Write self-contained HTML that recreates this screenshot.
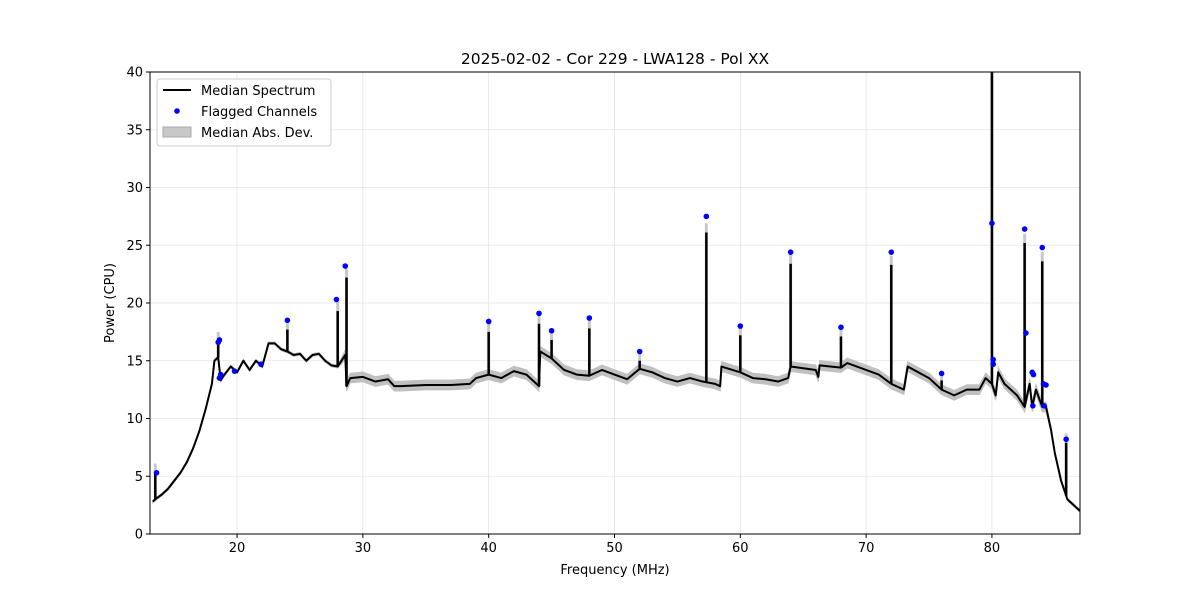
<!DOCTYPE html>
<html><head><meta charset="utf-8"><style>
body{margin:0;background:#fff;font-family:"Liberation Sans","DejaVu Sans",sans-serif}
svg text{font-family:"DejaVu Sans","Liberation Sans",sans-serif}
</style></head><body>
<svg id="c" width="1200" height="600"></svg>
<script>
const baseFreq=[13.3,13.5,14,14.5,15,15.5,16,16.5,17,17.5,18,18.2,18.5,18.7,19,19.5,20,20.5,21,21.5,22,22.5,23,23.5,24,24.5,25,25.5,26,26.5,27,27.5,28,28.6,28.7,29,30,31,32,32.5,33,35,37,38.5,39,40,41,42,43,44,44.1,45,46,47,48,49,50,51,52,53,54,55,56,57,58,58.4,58.5,60,61,62,63,63.8,64,66,66.2,66.3,68,68.5,70,71,72,73,73.3,75,76,77,78,79,79.5,80,80.3,80.5,81,82,82.6,83,83.2,83.5,84,84.3,84.7,85,85.5,86,87];
const basePow=[2.8,3.0,3.4,3.9,4.6,5.3,6.2,7.4,8.9,10.8,13.0,15.0,15.3,13.3,13.8,14.5,14.0,15.0,14.2,15.0,14.5,16.5,16.5,16.0,15.8,15.5,15.6,15.0,15.5,15.6,15.0,14.6,14.5,15.5,12.8,13.5,13.6,13.2,13.4,12.8,12.8,12.9,12.9,13.0,13.5,13.8,13.5,14.1,13.8,12.8,15.8,15.2,14.2,13.8,13.7,14.2,13.8,13.4,14.3,14.0,13.5,13.2,13.5,13.2,13.0,12.8,14.5,14.0,13.5,13.4,13.2,13.5,14.5,14.2,13.6,14.6,14.4,14.8,14.2,13.8,13.0,12.5,14.5,13.5,12.5,12.0,12.5,12.5,13.5,13.0,12.0,14.0,13.0,12.0,11.0,13.0,11.0,12.5,11.0,11.0,9.0,7.0,4.6,3.0,2.0];
const spikeFreq=[13.5,18.5,24,28,28.7,40,44,45,48,52,57.3,60,64,68,72,76,80,82.6,84,85.9];
const spikePow=[5.3,16.7,17.7,19.3,22.2,17.5,18.2,16.8,17.8,15,26.1,17.2,23.4,17.1,23.3,13.3,40,25.2,23.6,7.9];
const flagFreq=[13.6,18.5,18.6,18.6,18.7,19.8,21.9,24,27.9,28.6,40,44,45,48,52,57.3,60,64,68,72,76,80,80.1,80.1,82.6,82.7,83.2,83.3,83.25,84,84.1,84.3,84.15,85.9];
const flagPow=[5.3,16.6,16.8,13.5,13.8,14.1,14.7,18.5,20.3,23.2,18.4,19.1,17.6,18.7,15.8,27.5,18,24.4,17.9,24.4,13.9,26.9,15.1,14.7,26.4,17.4,14,13.8,11.1,24.8,13,12.9,11.1,8.2];
const xTicks=[20,30,40,50,60,70,80];
const yTicks=[0,5,10,15,20,25,30,35,40];

const L=150,R=1080,T=72,B=534,xmin=13.08,xmax=87.0,ymin=0,ymax=40;
const X=f=>L+(f-xmin)/(xmax-xmin)*(R-L);
const Y=p=>B-(p-ymin)/(ymax-ymin)*(B-T);
const NS='http://www.w3.org/2000/svg';
const svg=document.getElementById('c');
function mk(tag,attrs,parent){const e=document.createElementNS(NS,tag);for(const k in attrs)e.setAttribute(k,attrs[k]);(parent||svg).appendChild(e);return e;}
function interp(f){for(let i=1;i<baseFreq.length;i++){if(f<=baseFreq[i]){const t=(f-baseFreq[i-1])/(baseFreq[i]-baseFreq[i-1]);return basePow[i-1]+t*(basePow[i]-basePow[i-1]);}}return basePow[basePow.length-1];}

const grid=mk('g',{});


xTicks.forEach(t=>mk('line',{x1:X(t),x2:X(t),y1:T,y2:B,stroke:'#e3e3e3','stroke-width':0.8},grid));
yTicks.forEach(t=>mk('line',{x1:L,x2:R,y1:Y(t),y2:Y(t),stroke:'#e3e3e3','stroke-width':0.8},grid));

const clip=mk('clipPath',{id:'pc'});mk('rect',{x:L,y:T,width:R-L,height:B-T},clip);
const plot=mk('g',{'clip-path':'url(#pc)'});

let up='',dn='';
const bw=f=>(f<28.6||f>84.5)?0.12:0.42;
baseFreq.forEach((f,i)=>{up+=(i?'L':'M')+X(f)+','+Y(basePow[i]+bw(f));});
for(let i=baseFreq.length-1;i>=0;i--)dn+='L'+X(baseFreq[i])+','+Y(basePow[i]-bw(baseFreq[i]));
const band=mk('path',{d:up+dn+'Z',fill:'#c0c0c0',stroke:'#c0c0c0','stroke-width':1},plot);


spikeFreq.forEach((f,i)=>{const s=mk('line',{x1:X(f),x2:X(f),y1:Y(interp(f)),y2:Y(spikePow[i]+0.8),stroke:'#c8c8c8','stroke-width':3},plot);

});

let d='';baseFreq.forEach((f,i)=>{d+=(i?'L':'M')+X(f)+','+Y(basePow[i]);});
const line=mk('path',{d:d,fill:'none',stroke:'#000','stroke-width':2,'stroke-linejoin':'round'},plot);


spikeFreq.forEach((f,i)=>{const s=mk('line',{x1:X(f),x2:X(f),y1:Y(interp(f)),y2:Y(spikePow[i]),stroke:'#000','stroke-width':2.5},plot);

});

flagFreq.forEach((f,i)=>{const c=mk('circle',{cx:X(f),cy:Y(flagPow[i]),r:2.8,fill:'#0000ff'},plot);

});

const fr=mk('rect',{x:L,y:T,width:R-L,height:B-T,fill:'none',stroke:'#000','stroke-width':1});


xTicks.forEach(t=>{mk('line',{x1:X(t),x2:X(t),y1:B,y2:B+4,stroke:'#000'});
const tx=mk('text',{x:X(t),y:B+18,'text-anchor':'middle','font-size':13},svg);tx.textContent=t;

});
yTicks.forEach(t=>{mk('line',{x1:L-4,x2:L,y1:Y(t),y2:Y(t),stroke:'#000'});
const tx=mk('text',{x:L-7,y:Y(t)+4.5,'text-anchor':'end','font-size':13},svg);tx.textContent=t;

});

const title=mk('text',{x:615,y:64,'text-anchor':'middle','font-size':15.5});title.textContent='2025-02-02 - Cor 229 - LWA128 - Pol XX';


const xt=mk('text',{x:615,y:574,'text-anchor':'middle','font-size':13});xt.textContent='Frequency (MHz)';


const yt=mk('text',{x:114,y:303,'text-anchor':'middle','font-size':13,transform:'rotate(-90 114 303)'});yt.textContent='Power (CPU)';



const lg=mk('g',{});


mk('rect',{x:157,y:79,width:174,height:67,rx:3,fill:'#fff','fill-opacity':0.8,stroke:'#ccc'},lg);
mk('line',{x1:163,x2:191,y1:90,y2:90,stroke:'#000','stroke-width':2},lg);
mk('circle',{cx:177,cy:111,r:2.8,fill:'#0000ff'},lg);
mk('rect',{x:163,y:127,width:28,height:10,fill:'#c8c8c8',stroke:'#aaa'},lg);
[['Median Spectrum',95],['Flagged Channels',116],['Median Abs. Dev.',137]].forEach(a=>{const t=mk('text',{x:201,y:a[1],'font-size':13},lg);t.textContent=a[0];

});
</script>
</body></html>
